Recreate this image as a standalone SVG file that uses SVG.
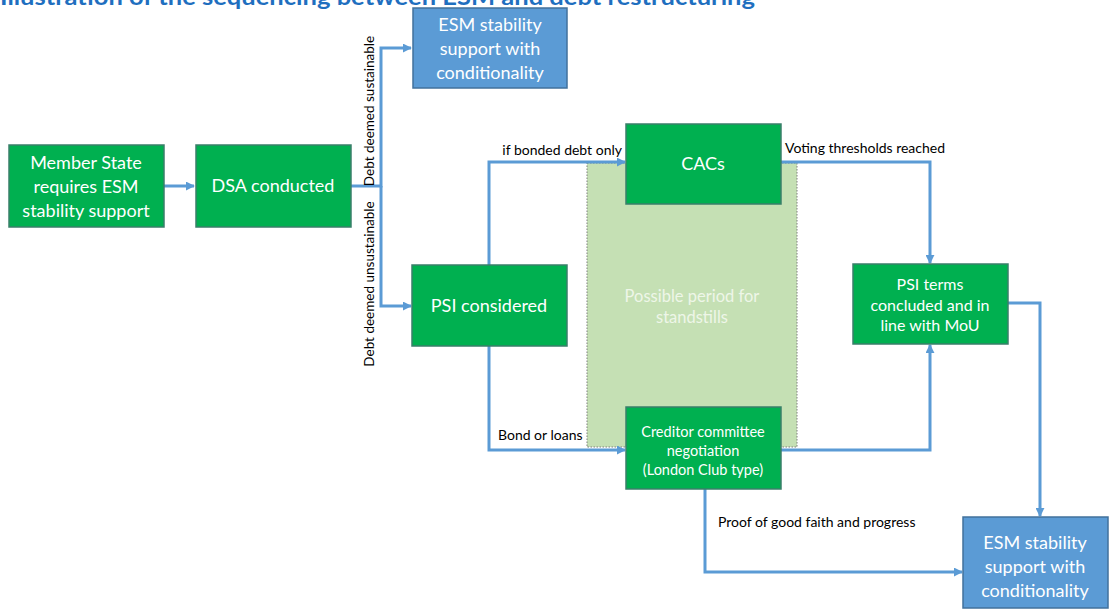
<svg xmlns="http://www.w3.org/2000/svg" width="1115" height="612" viewBox="0 0 1115 612">
<style>
.g{fill:#00B050;stroke:#3A7F6A;stroke-width:1.5}
.b{fill:#5B9BD5;stroke:#41719C;stroke-width:1.5}
.t{font-family:Lato,"Open Sans","Liberation Sans",sans-serif;fill:#fff;text-anchor:middle}
.l{font-family:Lato,"Open Sans","Liberation Sans",sans-serif;fill:#000;font-size:14px}
.c{fill:none;stroke:#5B9BD5;stroke-width:3}
.s{fill:#EEF6E8}
</style>
<defs>
<marker id="a" viewBox="0 0 10 10" refX="9" refY="5" markerWidth="9" markerHeight="9" markerUnits="userSpaceOnUse" orient="auto">
<path d="M0,0 L10,5 L0,10 z" fill="#5B9BD5"/>
</marker>
</defs>
<rect width="1115" height="612" fill="#fff"/>
<text x="0" y="5" font-family="Lato,'Liberation Sans',sans-serif" font-weight="bold" font-size="22" fill="#1F6FBF" textLength="755" lengthAdjust="spacingAndGlyphs">Illustration of the sequencing between ESM and debt restructuring</text>
<g id="standstill">
<rect x="587" y="163" width="210" height="284" fill="#C5E0B4" stroke="#7F7F7F" stroke-width="1" stroke-dasharray="1.5,1.5"/>
<text class="t s" x="692" y="302" font-size="16.5" style="fill:#EEF6E8">Possible period  for</text>
<text class="t s" x="692" y="323" font-size="16.5" style="fill:#EEF6E8">standstills</text>
</g>
<g id="connectors">
<path class="c" d="M164,186 H194" marker-end="url(#a)"/>
<path class="c" d="M351,186 H381 V48 H411" marker-end="url(#a)"/>
<path class="c" d="M381,186 V306 H411" marker-end="url(#a)"/>
<path class="c" d="M489,265 V162 H625" marker-end="url(#a)"/>
<path class="c" d="M489,346 V450 H625" marker-end="url(#a)"/>
<path class="c" d="M781,162 H930 V263" marker-end="url(#a)"/>
<path class="c" d="M781,450 H930 V345" marker-end="url(#a)"/>
<path class="c" d="M1008,303 H1040 V516" marker-end="url(#a)"/>
<path class="c" d="M705,489 V572 H962" marker-end="url(#a)"/>
<text class="l" transform="translate(374,111) rotate(-90)" text-anchor="middle" font-size="13.5" style="font-size:13.5px">Debt deemed sustainable</text>
<text class="l" transform="translate(374,284) rotate(-90)" text-anchor="middle" style="font-size:13.5px">Debt deemed unsustainable</text>
<text class="l" x="622" y="155" text-anchor="end">if bonded debt only</text>
<text class="l" x="785" y="153">Voting thresholds reached</text>
<text class="l" x="498" y="440">Bond or loans</text>
<text class="l" x="718" y="527">Proof of good faith and progress</text>
</g>
<g id="esm-top">
<rect class="b" x="413" y="8" width="154" height="80"/>
<text class="t" font-size="18" x="490" y="31">ESM stability</text>
<text class="t" font-size="18" x="490" y="55">support with</text>
<text class="t" font-size="18" x="490" y="79">conditionality</text>
</g>
<g id="member-state">
<rect class="g" x="9" y="145" width="155" height="82"/>
<text class="t" font-size="18" x="86" y="169">Member State</text>
<text class="t" font-size="18" x="86" y="193">requires ESM</text>
<text class="t" font-size="18" x="86" y="217">stability support</text>
</g>
<g id="dsa">
<rect class="g" x="196" y="145" width="155" height="82"/>
<text class="t" font-size="18" x="273" y="192">DSA conducted</text>
</g>
<g id="psi-considered">
<rect class="g" x="412" y="265" width="155" height="81"/>
<text class="t" font-size="18" x="489" y="312">PSI considered</text>
</g>
<g id="cacs">
<rect class="g" x="626" y="124" width="155" height="80"/>
<text class="t" font-size="18" x="703" y="170">CACs</text>
</g>
<g id="creditor">
<rect class="g" x="626" y="407" width="155" height="82"/>
<text class="t" font-size="14.5" x="703" y="437">Creditor committee</text>
<text class="t" font-size="14.5" x="703" y="456">negotiation</text>
<text class="t" font-size="14.5" x="703" y="475">(London Club type)</text>
</g>
<g id="psi-terms">
<rect class="g" x="853" y="264" width="155" height="80"/>
<text class="t" font-size="16" x="930" y="290">PSI terms</text>
<text class="t" font-size="16" x="930" y="311">concluded and in</text>
<text class="t" font-size="16" x="930" y="331">line with MoU</text>
</g>
<g id="esm-bottom">
<rect class="b" x="963" y="517" width="145" height="91"/>
<text class="t" font-size="18" x="1035" y="549">ESM stability</text>
<text class="t" font-size="18" x="1035" y="573">support with</text>
<text class="t" font-size="18" x="1035" y="597">conditionality</text>
</g>
</svg>
